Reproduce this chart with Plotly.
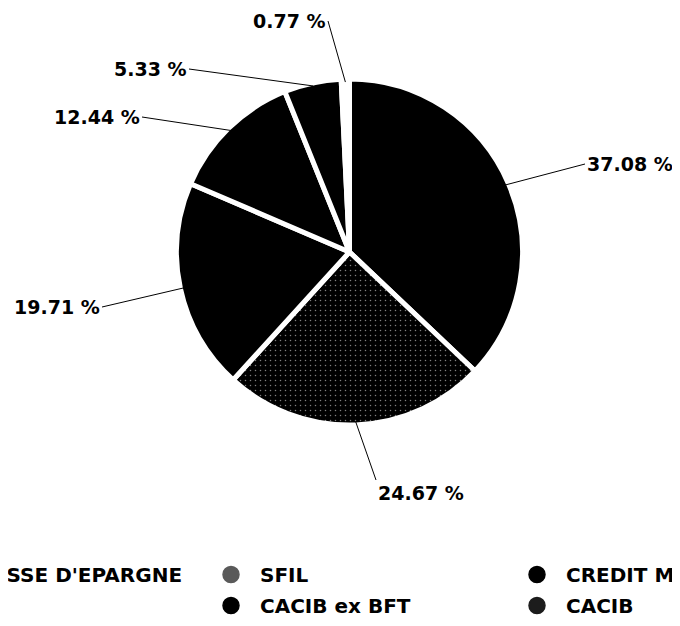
import math
import plotly.graph_objects as go

# slices, clockwise from 12 o'clock
labels = ["CAISSE D'EPARGNE", "SFIL", "CREDIT MUTUEL", "AUTRES", "CACIB ex BFT", "CACIB"]
values = [37.08, 24.67, 19.71, 12.44, 5.33, 0.77]
slice_colors = ["#000000", "#000000", "#000000", "#000000", "#000000", "#ffffff"]
slice_patterns = ["", ".", "", "", "", ""]

# legend entries: (label index, legend column)
legend_entries = [(0, "legend"), (1, "legend2"), (2, "legend3"), (4, "legend2"), (5, "legend3")]
legend_colors = {0: "#000000", 1: "#5a5a5a", 2: "#000000", 4: "#000000", 5: "#1c1c1c"}

W, H = 680, 626
CX, CY, R = 341.5, 244, 173   # pie centre / radius in px (incl. white border)
R_EDGE = 170

# where each percentage label's leader line ends (px) and how the text hangs off it
label_tails = [(577, 156, "left", "middle"), (368, 472, "left", "top"),
               (94, 299, "right", "middle"), (134, 109, "right", "middle"),
               (181, 61, "right", "middle"), (320, 13, "right", "middle")]

FONT = "DejaVu Sans"

fig = go.Figure()
fig.add_trace(go.Pie(
    labels=labels, values=values, sort=False, direction="clockwise", rotation=0,
    textinfo="none", hoverinfo="skip", showlegend=False,
    marker=dict(colors=slice_colors, line=dict(color="white", width=5),
                pattern=dict(shape=slice_patterns, fgcolor="#ffffff", bgcolor="#000000",
                             size=5, solidity=0.07, fillmode="overlay")),
    domain=dict(x=[(CX - R) / W, (CX + R) / W], y=[1 - (CY + R) / H, 1 - (CY - R) / H]),
))

for idx, leg in legend_entries:
    fig.add_trace(go.Scatter(
        x=[None], y=[None], mode="markers", name=labels[idx], legend=leg,
        legendgroup=labels[idx],
        marker=dict(size=16, color=legend_colors[idx], line=dict(width=1.5, color=legend_colors[idx])),
    ))

total = sum(values)
cum = 0
annotations = []
for v, (tx, ty, xa, ya) in zip(values, label_tails):
    ang = math.radians((cum + v / 2) / total * 360)
    cum += v
    hx = CX + R_EDGE * math.sin(ang)
    hy = CY - R_EDGE * math.cos(ang)
    annotations.append(dict(
        x=hx / W, y=1 - hy / H, xref="paper", yref="paper",
        ax=tx - hx, ay=ty - hy, xanchor=xa, yanchor=ya,
        text=f"{v:.2f} %", showarrow=True, arrowhead=0, arrowwidth=1,
        arrowcolor="black", standoff=0,
        font=dict(family=FONT, size=19, color="black", weight="bold"),
    ))

legend_style = dict(orientation="v", xanchor="left", yanchor="top", itemwidth=48,
                    tracegroupgap=2, bgcolor="rgba(0,0,0,0)",
                    font=dict(family=FONT, size=20, color="black", weight="bold"))

LEG_TOP = 1 - 547 / H
fig.update_layout(
    width=W, height=H,
    margin=dict(l=0, r=0, t=0, b=0, autoexpand=False),
    paper_bgcolor="white", plot_bgcolor="white",
    xaxis=dict(visible=False), yaxis=dict(visible=False),
    annotations=annotations,
    legend=dict(x=-97 / W, y=LEG_TOP, **legend_style),
    legend2=dict(x=194 / W, y=LEG_TOP, **legend_style),
    legend3=dict(x=500 / W, y=LEG_TOP, **legend_style),
)

fig.write_html("out.html")
